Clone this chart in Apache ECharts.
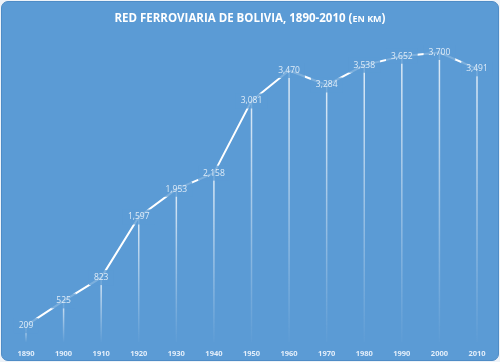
<!DOCTYPE html>
<html><head><meta charset="utf-8">
<script src="https://cdn.jsdelivr.net/npm/echarts@6/dist/echarts.min.js"></script>
<style>
html,body{margin:0;padding:0;background:#eef3f9;}
#wrap{position:absolute;left:1px;top:1px;width:496px;height:358px;background:#5b9bd5;border:1px solid #4f8cc6;border-radius:7px;overflow:hidden;}
#c{width:496px;height:358px;}
</style></head>
<body><div id="wrap"><div id="c"></div></div>
<script>
const years = ['1890','1900','1910','1920','1930','1940','1950','1960','1970','1980','1990','2000','2010'];
const km = [209,525,823,1597,1953,2158,3081,3470,3284,3538,3652,3700,3491];
const titleMain = 'RED FERROVIARIA DE BOLIVIA, 1890-2010 (';
const titleSmall = 'EN KM';
const BG = '#5b9bd5';

const chart = echarts.init(document.getElementById('c'));
chart.setOption({
  animation:false,
  title:{
    text:'{a|'+titleMain+'}{b|'+titleSmall+'}{a|)}',
    left:'center', top:6,
    textStyle:{rich:{
      a:{fontFamily:'Open Sans',fontWeight:'bold',fontSize:11.5,color:'#ffffff'},
      b:{fontFamily:'Open Sans',fontWeight:'bold',fontSize:9,color:'#ffffff'}
    }}
  },
  grid:{left:24,right:21,top:27,bottom:18,containLabel:false},
  xAxis:{
    type:'category', data:years, boundaryGap:false,
    axisLine:{show:false}, axisTick:{show:false}, splitLine:{show:false},
    axisLabel:{color:'#e3eefa',fontFamily:'Open Sans',fontWeight:'bold',fontSize:7.5,margin:8}
  },
  yAxis:{type:'value',min:0,max:4000,show:false,splitLine:{show:false}},
  series:[
    {
      type:'bar', data:km, barWidth:1.5, z:1,
      itemStyle:{color:new echarts.graphic.LinearGradient(0,0,0,1,[
        {offset:0,color:'rgba(255,255,255,0.8)'},
        {offset:0.5,color:'rgba(255,255,255,0.4)'},
        {offset:1,color:'rgba(255,255,255,0.02)'}
      ])}
    },
    {
      type:'line', data:km, z:5, symbol:'none',
      lineStyle:{color:'#ffffff',width:2}
    },
    {
      type:'scatter', data:km, z:10, symbol:'circle', symbolSize:1,
      itemStyle:{color:BG},
      label:{show:true,position:'inside',color:'#ffffff',fontFamily:'Open Sans',fontSize:8.5,
        backgroundColor:BG,padding:[3,5],
        formatter:p=>p.value.toLocaleString('en-US')}
    }
  ]
});
</script></body></html>
